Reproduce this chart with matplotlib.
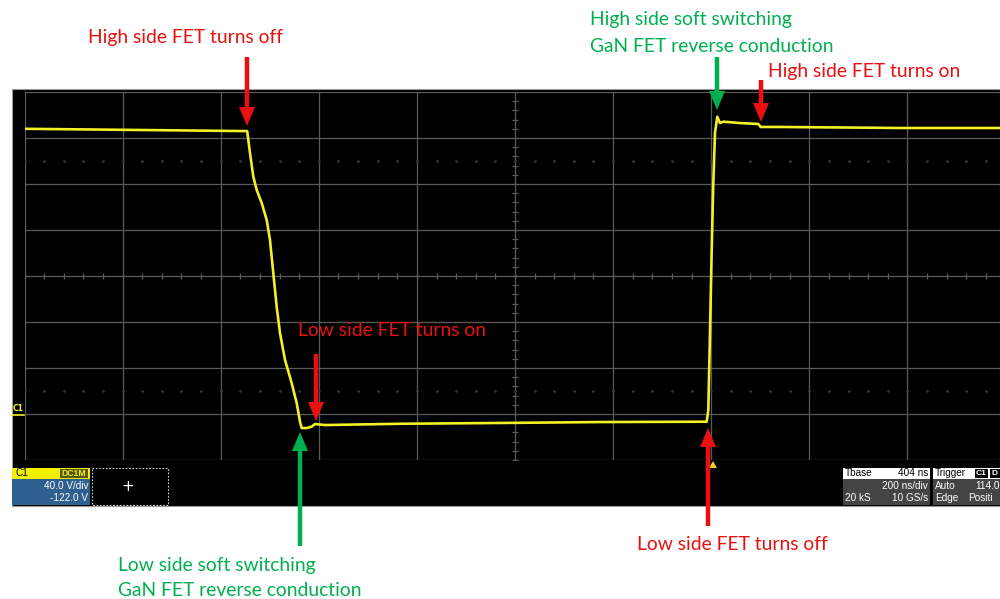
import matplotlib
matplotlib.use("Agg")
import matplotlib.pyplot as plt
from matplotlib.patches import Rectangle, FancyArrow, Polygon

# ---- waveform data (time in ns from left edge of screen, voltage in V) ----
t_ns = [0, 454, 459.7, 466.5, 473.4, 483.6, 493.8, 500.5, 507.2, 514.2, 520.9,
        531.1, 544.7, 554.9, 561.7, 565.1, 575.3, 585.5, 592.2, 612.6, 765.5,
        969.4, 1173.3, 1390.8, 1394.1, 1397.5, 1401.0, 1404.3, 1407.7, 1412.4,
        1417.9, 1424.7, 1458.7, 1496.0, 1500.9, 1540.3, 1785, 2000]
v_volts = [250, 248, 229.0, 208.4, 196.8, 185.5, 170.7, 153.3, 124.6, 95.0, 72.4,
           49.0, 28.9, 11.6, -4.7, -10.2, -10.2, -9.0, -6.7, -7.6, -6.5,
           -5.8, -5.0, -4.7, 5.5, 72.4, 144.6, 202.9, 246.4, 260.5,
           255.0, 256.2, 255.0, 254.2, 251.6, 251.6, 250.7, 250.7]

# scope settings
volts_per_div = 40.0
offset_v = -122.0
ns_per_div = 200.0
n_xdiv, n_ydiv = 10, 8
center_v = -offset_v

# panel texts
ch_label = "C1"
ch_coupling = "DC1M"
ch_scale = "40.0 V/div"
ch_offset = "-122.0 V"
tb_rows = [("Tbase", "404 ns"), ("", "200 ns/div"), ("20 kS", "10 GS/s")]
trig_rows = [("Trigger", ""), ("Auto", "114.0"), ("Edge", "Positi")]

RED = "#e81010"
GREEN = "#00b050"
YEL = "#f2f026"
GRID = "#5a5a5a"

W, H = 1000, 599
fig = plt.figure(figsize=(W / 100, H / 100), dpi=100)
fig.patch.set_facecolor("white")

# background overlay (pixel coords, origin top-left)
bg = fig.add_axes([0, 0, 1, 1], zorder=0)
bg.set_xlim(0, W); bg.set_ylim(H, 0); bg.axis("off")
bg.add_patch(Rectangle((12, 89), 988, 417, facecolor="black", edgecolor="#9a9a9a", lw=0.8))

# scope axes
gl, gt, gw, gh = 24.5, 92, 981, 368
ax = fig.add_axes([gl / W, (H - gt - gh) / H, gw / W, gh / H], zorder=1)
ax.set_facecolor("none")
xmax = ns_per_div * n_xdiv
ymin = center_v - volts_per_div * n_ydiv / 2
ymax = center_v + volts_per_div * n_ydiv / 2
ax.set_xlim(0, xmax); ax.set_ylim(ymin, ymax)
for s in ax.spines.values():
    s.set_visible(False)
ax.set_xticks([]); ax.set_yticks([])
for i in range(n_xdiv + 1):
    ax.axvline(i * ns_per_div, color=GRID, lw=0.9, zorder=1)
for j in range(n_ydiv + 1):
    ax.axhline(ymin + j * volts_per_div, color=GRID, lw=0.9, zorder=1)
# minor marks on centre lines
xm = [k * ns_per_div / 5 for k in range(n_xdiv * 5 + 1)]
ym = [ymin + k * volts_per_div / 5 for k in range(n_ydiv * 5 + 1)]
ax.plot(xm, [center_v] * len(xm), ls="none", marker="|", ms=4, mew=0.9, color=GRID, zorder=1)
ax.plot([xmax / 2] * len(ym), ym, ls="none", marker="_", ms=4, mew=0.9, color=GRID, zorder=1)
# dotted rows at +/- 2.5 div
for vv in (center_v - 2.5 * volts_per_div, center_v + 2.5 * volts_per_div):
    ax.plot(xm, [vv] * len(xm), ls="none", marker="s", ms=0.8, color="#3c3c3c", zorder=1)

ax.plot(t_ns, v_volts, color=YEL, lw=1.9, solid_joinstyle="round", zorder=3)

# foreground overlay
fg = fig.add_axes([0, 0, 1, 1], zorder=3)
fg.set_xlim(0, W); fg.set_ylim(H, 0); fg.axis("off")
fg.patch.set_alpha(0)

# channel marker
fg.plot([12, 24], [415, 415], color=YEL, lw=1.2)
fg.text(13, 413, "C1", color=YEL, fontsize=5.5, fontweight="bold", va="bottom", ha="left",
        family="DejaVu Sans")
# trigger marker
fg.add_patch(Polygon([[709, 468], [717, 468], [713, 461]], closed=True, facecolor="#e8d020", edgecolor="none"))

# bottom panels
pf = dict(family="Liberation Sans", fontsize=7.2)
fg.add_patch(Rectangle((12, 468), 78, 11, facecolor="#f4f000", edgecolor="none"))
fg.add_patch(Rectangle((12, 479), 78, 26, facecolor="#2f5f8f", edgecolor="none"))
fg.add_patch(Rectangle((60, 469), 28, 9, facecolor="#55551a", edgecolor="none"))
fg.text(15, 473.5, ch_label, color="black", va="center", ha="left", **pf)
fg.text(74, 473.5, ch_coupling, color="#f4f000", va="center", ha="center",
        family="Liberation Sans", fontsize=6.2, fontweight="bold")
fg.text(88, 486, ch_scale, color="white", va="center", ha="right", **pf)
fg.text(88, 498, ch_offset, color="white", va="center", ha="right", **pf)
fg.add_patch(Rectangle((92, 468), 76, 37, facecolor="none", edgecolor="#d0d0d0", lw=0.8, ls=(0, (1.5, 1.5))))
fg.text(128, 486.5, "+", color="white", va="center", ha="center", fontsize=11, family="DejaVu Sans")

fg.add_patch(Rectangle((843, 468), 87, 11, facecolor="white", edgecolor="none"))
fg.add_patch(Rectangle((843, 479), 87, 26, facecolor="#444444", edgecolor="none"))
for k, (lt, rt) in enumerate(tb_rows):
    yy = 473.5 + 12.2 * k
    c = "black" if k == 0 else "white"
    fg.text(845, yy, lt, color=c, va="center", ha="left", **pf)
    fg.text(928, yy, rt, color=c, va="center", ha="right", **pf)
fg.add_patch(Rectangle((933, 468), 70, 11, facecolor="white", edgecolor="none"))
fg.add_patch(Rectangle((933, 479), 70, 26, facecolor="#444444", edgecolor="none"))
fg.add_patch(Rectangle((975, 469), 13, 9, facecolor="black", edgecolor="none"))
fg.add_patch(Rectangle((990, 469), 12, 9, facecolor="black", edgecolor="none"))
fg.text(981.5, 473.5, "C1", color="white", va="center", ha="center", family="Liberation Sans",
        fontsize=6, fontweight="bold")
fg.text(992, 473.5, "D", color="white", va="center", ha="left", family="Liberation Sans",
        fontsize=6, fontweight="bold")
for k, (lt, rt) in enumerate(trig_rows):
    yy = 473.5 + 12.2 * k
    c = "black" if k == 0 else "white"
    fg.text(935, yy, lt, color=c, va="center", ha="left", **pf)
    if rt:
        fg.text(975 if k == 1 else 968, yy, rt, color=c, va="center", ha="left", **pf)

# annotations
def arrow(x, y0, y1, color):
    d = y1 - y0
    fg.add_patch(FancyArrow(x, y0, 0, d, width=4.5, head_width=16, head_length=19,
                            length_includes_head=True, color=color, lw=0))

arrow(247, 57, 126, RED)
arrow(717, 57, 110, GREEN)
arrow(761, 80, 122, RED)
arrow(316, 354, 421, RED)
arrow(300, 546, 432, GREEN)
arrow(708, 526, 428, RED)

tf = dict(family="Lato", fontsize=13.9, va="center")
fg.text(185.5, 38, "High side FET turns off", color=RED, ha="center", **tf)
fg.text(590, 20, "High side soft switching", color=GREEN, ha="left", **tf)
fg.text(590, 46, "GaN FET reverse conduction", color=GREEN, ha="left", **tf)
fg.text(768, 72, "High side FET turns on", color=RED, ha="left", **tf)
fg.text(298, 330, "Low side FET turns on", color=RED, ha="left", **tf)
fg.text(637, 544, "Low side FET turns off", color=RED, ha="left", **tf)
fg.text(118, 566, "Low side soft switching", color=GREEN, ha="left", **tf)
fg.text(118, 591, "GaN FET reverse conduction", color=GREEN, ha="left", **tf)

fig.savefig("out.png", dpi=100, facecolor="white")
